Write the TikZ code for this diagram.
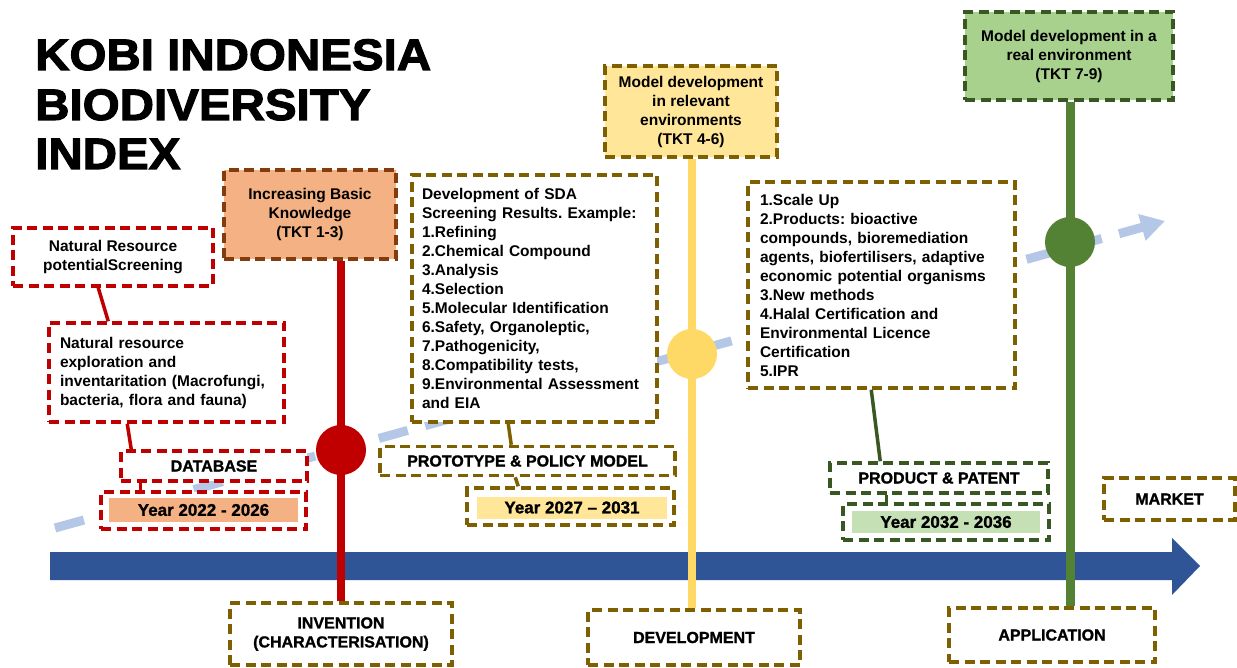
\documentclass[tikz,border=0pt]{standalone}
\usepackage{fontspec}
\setmainfont{Liberation Sans}
\newfontfamily\titlefont[FakeStretch=1.08,FakeBold=2.5]{Liberation Sans}
\newfontfamily\heavyfont[FakeBold=1.2]{Liberation Sans}
\usetikzlibrary{arrows.meta,calc}
\definecolor{cred}{HTML}{C00000}
\definecolor{cbrown}{HTML}{843C0C}
\definecolor{corange}{HTML}{F4B183}
\definecolor{colive}{HTML}{7F6000}
\definecolor{cyelfill}{HTML}{FFE699}
\definecolor{cyellow}{HTML}{FFD966}
\definecolor{cgreenbox}{HTML}{A9D18E}
\definecolor{cdgreen}{HTML}{385723}
\definecolor{cgreen}{HTML}{548235}
\definecolor{cgreenfill}{HTML}{C5E0B4}
\definecolor{cblue}{HTML}{2F5597}
\definecolor{clight}{HTML}{B4C7E7}
\frenchspacing
\begin{document}
\begin{tikzpicture}[x=1pt,y=-1pt,
  box/.style={draw, line width=3.5pt, dash pattern=on 10pt off 5.5pt, fill=white,
    inner sep=0pt, align=center, text=black,
    font=\fontsize{15.5}{19}\selectfont\bfseries},
  lbox/.style={box, align=left, inner xsep=#1, inner ysep=0pt},
  capbox/.style={box, font=\heavyfont\fontsize{16}{19}\selectfont\bfseries},
  yearin/.style={draw=none, inner sep=0pt, font=\heavyfont\fontsize{17}{19}\selectfont\bfseries},
  title/.style={anchor=base west, inner sep=0pt, font=\titlefont\fontsize{44}{50}\selectfont\bfseries},
  conn/.style={line width=3.5pt},
  stem/.style={line width=8pt},
  dot/.style={circle, minimum size=50pt, inner sep=0pt}
]
\useasboundingbox[fill=white] (0,0) rectangle (1237,668);

% title
\node[title] (t1) at (35,70) {KOBI INDONESIA};
\node[title] (t2) at (35,120) {BIODIVERSITY};
\node[title] (t3) at (35,169) {INDEX};

% diagonal light blue dashed arrow
\coordinate (d0) at (55,528);
\coordinate (d1) at (1165,221);
\draw[clight, line width=9pt, dash pattern=on 30pt off 18pt,
  -{Triangle[length=24pt,width=26pt]}] (d0) -- (d1);

% main blue arrow
\fill[cblue] (50,552) -- (1172,552) -- (1172,538) -- (1200,566) -- (1172,595)
  -- (1172,580) -- (50,580) -- cycle;

% top boxes
\node[box, draw=cbrown, fill=corange, minimum width=172pt, minimum height=89pt]
  (tkt13) at (310,214.5) {Increasing Basic\\Knowledge\\(TKT 1-3)};
\node[box, draw=colive, fill=cyelfill, minimum width=172pt, minimum height=91pt]
  (tkt46) at (691,111.5) {Model development\\in relevant\\environments\\(TKT 4-6)};
\node[box, draw=cdgreen, fill=cgreenbox, minimum width=208pt, minimum height=88pt]
  (tkt79) at (1069,56) {Model development in a\\real environment\\(TKT 7-9)};

% bottom boxes
\node[capbox, draw=colive, minimum width=222pt, minimum height=62pt]
  (invent) at (341,634) {INVENTION\\(CHARACTERISATION)};
\node[capbox, draw=colive, minimum width=212pt, minimum height=55pt]
  (devel) at (694,637.5) {DEVELOPMENT};
\node[capbox, draw=colive, minimum width=206pt, minimum height=54pt]
  (appl) at (1052,635) {APPLICATION};

% circles (positions on stems)
\coordinate (c1) at (341,450);
\coordinate (c2) at (692,354);
\coordinate (c3) at (1070,242);

% stems
\draw[stem, cred] (c1 |- tkt13.south) -- (c1 |- invent.north);
\draw[stem, cyellow] (c2 |- tkt46.south) -- (c2 |- devel.north);
\draw[stem, cgreen, line width=9pt] (c3 |- tkt79.south) -- (c3 |- appl.north);

\node[dot, fill=cred] (dot1) at (c1) {};
\node[dot, fill=cyellow] (dot2) at (c2) {};
\node[dot, fill=cgreen] (dot3) at (c3) {};

% left (red) group
\node[box, draw=cred, minimum width=200pt, minimum height=58pt]
  (nrs) at (113,257) {Natural Resource\\potentialScreening};
\node[lbox=11pt, draw=cred, text width=213pt, minimum height=99pt]
  (explore) at (166.5,372.5) {Natural resource\\exploration and\\inventaritation (Macrofungi,\\bacteria, flora and fauna)};
\node[capbox, draw=cred, minimum width=186pt, minimum height=30pt]
  (db) at (214,466) {DATABASE};
\node[box, draw=cred, minimum width=205pt, minimum height=37pt]
  (y1) at (203.5,510.5) {};
\node[yearin, fill=corange, minimum width=189pt, minimum height=24pt]
  (y1in) at (203.5,510) {Year 2022 - 2026};

\draw[conn, cred] ($(nrs.south west)+(87,0)$) -- ($(explore.north west)+(61,0)$);
\draw[conn, cred] ($(explore.south west)+(80,0)$) -- ($(db.north west)+(12,0)$);
\draw[conn, cred] ($(db.south west)+(21,0)$) -- ($(y1.north west)+(41,0)$);

% middle (olive) group
\node[lbox=10pt, draw=colive, text width=225pt, minimum height=247pt]
  (sda) at (534.5,298.5) {Development of SDA\\Screening Results. Example:\\1.Refining\\2.Chemical Compound\\3.Analysis\\4.Selection\\5.Molecular Identification\\6.Safety, Organoleptic,\\7.Pathogenicity,\\8.Compatibility tests,\\9.Environmental Assessment\\and EIA};
\node[capbox, draw=colive, minimum width=295pt, minimum height=29pt]
  (proto) at (527.5,461) {PROTOTYPE \& POLICY MODEL};
\node[box, draw=colive, minimum width=207pt, minimum height=37pt]
  (y2) at (570.5,506.5) {};
\node[yearin, fill=cyelfill, minimum width=190pt, minimum height=22pt]
  (y2in) at (572,507.5) {Year 2027 \textendash{} 2031};

\draw[conn, colive] ($(sda.south west)+(98,0)$) -- ($(proto.north west)+(133,0)$);
\draw[conn, colive] ($(proto.south west)+(137,0)$) -- ($(y2.north west)+(53,0)$);

% right group
\node[lbox=12pt, draw=colive, text width=243pt, minimum height=206pt]
  (scale) at (881.5,285) {1.Scale Up\\2.Products: bioactive\\compounds, bioremediation\\agents, biofertilisers, adaptive\\economic potential organisms\\3.New methods\\4.Halal Certification and\\Environmental Licence\\Certification\\5.IPR};
\node[capbox, draw=cdgreen, minimum width=218pt, minimum height=30pt]
  (patent) at (939,478) {PRODUCT \& PATENT};
\node[box, draw=cdgreen, minimum width=206pt, minimum height=36pt]
  (y3) at (946,522) {};
\node[yearin, fill=cgreenfill, minimum width=188pt, minimum height=22pt]
  (y3in) at (946,522) {Year 2032 - 2036};

\draw[conn, cdgreen] ($(scale.south west)+(125,0)$) -- ($(patent.north west)+(52,0)$);
\draw[conn, cdgreen] ($(patent.south west)+(58,0)$) -- ($(y3.north west)+(45,0)$);

\node[capbox, draw=colive, minimum width=131pt, minimum height=42pt]
  (market) at (1169.5,499) {MARKET};
\end{tikzpicture}
\end{document}
